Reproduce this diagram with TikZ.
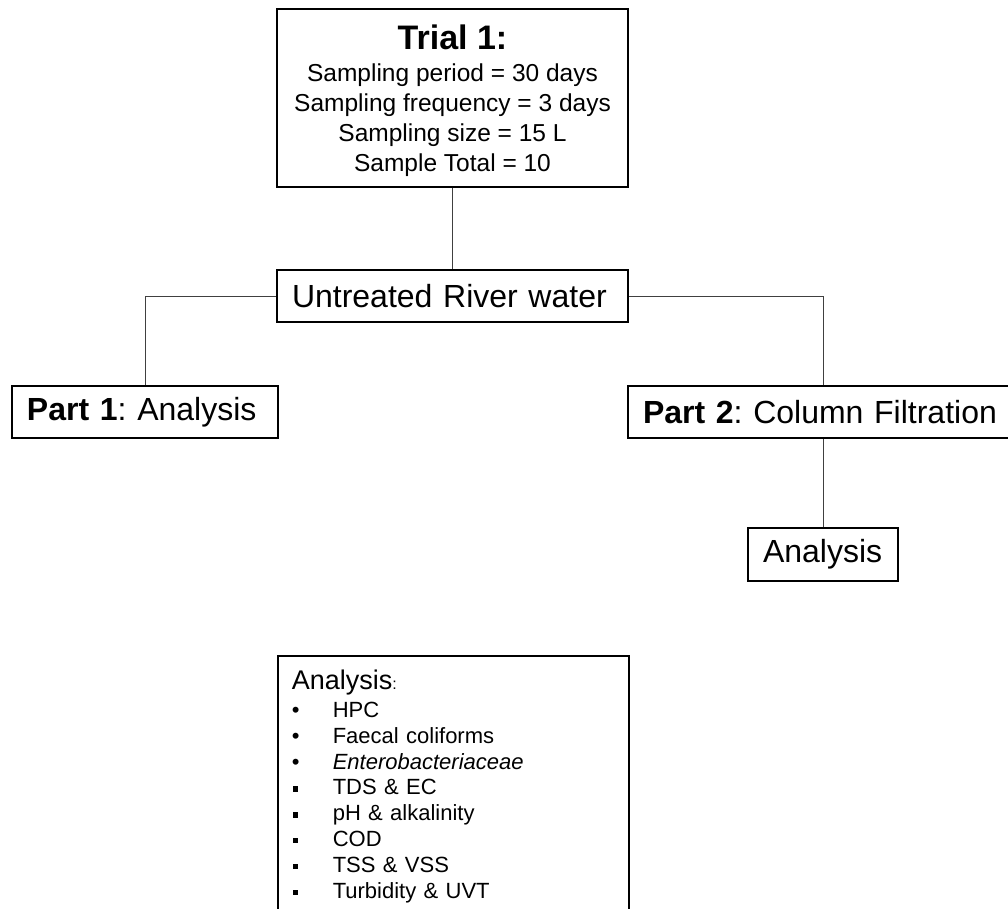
\documentclass[tikz,border=0pt]{standalone}
\usepackage{fontspec}
\setmainfont{Liberation Sans}
\frenchspacing
\newcommand{\listrow}[2]{\makebox[41pt][l]{#1}#2}
\newcommand{\roundmark}{•}
\newcommand{\squaremark}{\hspace*{1pt}\rule[3pt]{5.5pt}{5.5pt}}
\begin{document}
\begin{tikzpicture}
[x=1pt,y=-1pt,
  boxdecorate/.style={shape=rectangle,draw,line width=1.6pt,inner ysep=0pt,inner xsep=15pt},%
  linedecorate/.style={-,line width=0.9pt,draw=black!75}]
\useasboundingbox (0,0) rectangle (1008,908);
\clip (0,0) rectangle (1008,908);
%% top box
\node (trial) at (452.5,98) [boxdecorate,align=center,minimum width=351,minimum height=178,
  font=\fontsize{24.5}{30}\selectfont]
  {{\fontsize{34}{34}\bfseries\rule{0pt}{30pt}Trial 1:}\\[1.5pt]
   Sampling period = 30 days\\
   Sampling frequency = 3 days\\
   Sampling size = 15 L\\
   Sample Total = 10};
%% one line boxes
\foreach \nodename/\x/\y/\w/\h/\label in {river/452.5/296/321/52/Untreated River water,
  partone/145/412/236/52/\textbf{Part 1}: Analysis,
  parttwo/823/412/360/52/\textbf{Part 2}: Column Filtration,
  partanalysis/823/554.5/120/53/Analysis} {
  \node (\nodename) at (\x,\y) [boxdecorate,align=left,text width=\w,minimum height=\h,
    font=\fontsize{32}{36}\selectfont] {\label};
}
%% list of analyses; its lower edge runs off the page
\node (analysislist) at (277,655) [boxdecorate,anchor=north west,inner xsep=14pt,inner ysep=14.3pt,
  text width=323,align=left,font=\fontsize{22}{25.8}\selectfont]
  {{\fontsize{27}{27}\selectfont Analysis}{\fontsize{16}{16}\selectfont :}\\[2pt]
   \listrow{\roundmark}{HPC}\\
   \listrow{\roundmark}{Faecal coliforms}\\
   \listrow{\roundmark}{\textit{Enterobacteriaceae}}\\
   \listrow{\squaremark}{TDS \& EC}\\
   \listrow{\squaremark}{pH \& alkalinity}\\
   \listrow{\squaremark}{COD}\\
   \listrow{\squaremark}{TSS \& VSS}\\
   \listrow{\squaremark}{Turbidity \& UVT\rule[-12pt]{0pt}{12pt}}};
%% edges or lines
\path
(trial) edge[linedecorate] (river)
(parttwo) edge[linedecorate] (partanalysis);
\draw[linedecorate] (river.west) -| (partone.north);
\draw[linedecorate] (river.east) -| (parttwo.north);
\end{tikzpicture}
\end{document}
